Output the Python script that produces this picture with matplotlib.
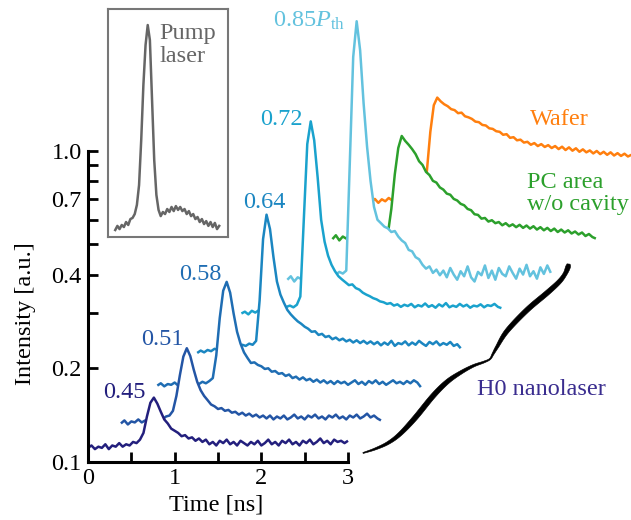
import numpy as np
import matplotlib
matplotlib.use('Agg')
import matplotlib.pyplot as plt
from matplotlib.patches import Polygon
from matplotlib.ticker import FixedLocator, NullLocator

plt.rcParams['font.family'] = ['Liberation Serif', 'DejaVu Serif']
plt.rcParams['mathtext.fontset'] = 'custom'
plt.rcParams['mathtext.rm'] = 'Liberation Serif'
plt.rcParams['mathtext.it'] = 'Liberation Serif:italic'

FS = 17.5
DT = 0.04  # ns sampling step of the traces

# ---------------- data ----------------
# H0 nanolaser traces (waterfall, each offset in time) : start time [ns], intensities [a.u.]
t0_045 = 0.00
I_045 = [0.111, 0.113, 0.110, 0.112, 0.111, 0.114, 0.110, 0.113, 0.112, 0.115, 0.112, 0.114, 0.113, 0.116,
         0.115, 0.118, 0.124, 0.140, 0.155, 0.161, 0.154, 0.145, 0.137, 0.133, 0.128, 0.126, 0.124, 0.121,
         0.122, 0.119, 0.120, 0.117, 0.119, 0.116, 0.118, 0.114, 0.116, 0.113, 0.117, 0.115, 0.118, 0.114,
         0.116, 0.113, 0.117, 0.115, 0.113, 0.116, 0.114, 0.117, 0.113, 0.115, 0.118, 0.114, 0.116, 0.113,
         0.117, 0.115, 0.118, 0.114, 0.116, 0.113, 0.117, 0.115, 0.118, 0.114, 0.116, 0.119, 0.115, 0.117,
         0.114, 0.118, 0.116, 0.117, 0.115, 0.117]

t0_051 = 0.38
I_051 = [0.133, 0.136, 0.132, 0.135, 0.134, 0.137, 0.134, 0.136, 0.135, 0.138, 0.136, 0.139, 0.137, 0.140,
         0.141, 0.146, 0.163, 0.190, 0.218, 0.232, 0.219, 0.198, 0.181, 0.170, 0.163, 0.158, 0.153, 0.151,
         0.148, 0.149, 0.146, 0.147, 0.144, 0.145, 0.142, 0.144, 0.141, 0.143, 0.140, 0.142, 0.139, 0.141,
         0.138, 0.141, 0.137, 0.140, 0.138, 0.141, 0.137, 0.139, 0.142, 0.138, 0.140, 0.137, 0.141, 0.139,
         0.142, 0.138, 0.140, 0.137, 0.141, 0.139, 0.142, 0.138, 0.140, 0.137, 0.141, 0.139, 0.142, 0.138,
         0.140, 0.143, 0.139, 0.141, 0.138, 0.136]

t0_058 = 0.80
I_058 = [0.176, 0.179, 0.175, 0.178, 0.177, 0.180, 0.176, 0.179, 0.178, 0.181, 0.177, 0.180, 0.178, 0.181,
         0.179, 0.182, 0.186, 0.220, 0.290, 0.355, 0.379, 0.350, 0.300, 0.262, 0.240, 0.225, 0.216, 0.208,
         0.209, 0.205, 0.203, 0.199, 0.200, 0.195, 0.196, 0.192, 0.193, 0.189, 0.191, 0.186, 0.188, 0.184,
         0.187, 0.183, 0.185, 0.181, 0.184, 0.180, 0.183, 0.179, 0.182, 0.178, 0.182, 0.179, 0.181, 0.177,
         0.180, 0.183, 0.178, 0.181, 0.177, 0.182, 0.179, 0.183, 0.178, 0.181, 0.177, 0.180, 0.183, 0.179,
         0.181, 0.178, 0.182, 0.179, 0.183, 0.180, 0.174]

t0_064 = 1.26
I_064 = [0.224, 0.228, 0.225, 0.229, 0.227, 0.231, 0.229, 0.233, 0.231, 0.234, 0.232, 0.236, 0.234, 0.238,
         0.236, 0.240, 0.238, 0.245, 0.330, 0.520, 0.623, 0.560, 0.455, 0.380, 0.345, 0.325, 0.308, 0.298,
         0.290, 0.283, 0.278, 0.272, 0.268, 0.262, 0.263, 0.256, 0.258, 0.252, 0.254, 0.248, 0.251, 0.246,
         0.249, 0.244, 0.247, 0.242, 0.246, 0.241, 0.245, 0.240, 0.244, 0.239, 0.243, 0.237, 0.242, 0.238,
         0.245, 0.236, 0.241, 0.239, 0.244, 0.237, 0.242, 0.238, 0.245, 0.240, 0.236, 0.243, 0.239, 0.244,
         0.237, 0.241, 0.238, 0.243, 0.236, 0.239, 0.232]

t0_072 = 1.77
I_072 = [0.300, 0.304, 0.298, 0.306, 0.302, 0.307, 0.305, 0.309, 0.307, 0.311, 0.309, 0.313, 0.311, 0.315,
         0.318, 0.314, 0.320, 0.340, 0.600, 1.050, 1.242, 1.080, 0.820, 0.600, 0.510, 0.460, 0.430, 0.410,
         0.395, 0.386, 0.378, 0.370, 0.372, 0.362, 0.358, 0.350, 0.345, 0.341, 0.336, 0.333, 0.328, 0.326,
         0.322, 0.324, 0.318, 0.321, 0.315, 0.320, 0.317, 0.322, 0.314, 0.319, 0.316, 0.323, 0.315, 0.319,
         0.313, 0.321, 0.316, 0.324, 0.314, 0.318, 0.315, 0.322, 0.316, 0.320, 0.313, 0.318, 0.316, 0.321,
         0.314, 0.319, 0.317, 0.322, 0.315, 0.312]

t0_085 = 2.30
I_085 = [0.385, 0.395, 0.380, 0.392, 0.387, 0.395, 0.389, 0.398, 0.392, 0.400, 0.395, 0.402, 0.397, 0.405,
         0.400, 0.408, 0.403, 0.412, 0.900, 2.000, 2.605, 2.100, 1.420, 1.030, 0.800, 0.660, 0.600, 0.585,
         0.570, 0.563, 0.548, 0.552, 0.530, 0.515, 0.505, 0.480, 0.475, 0.455, 0.448, 0.430, 0.418, 0.425,
         0.405, 0.415, 0.398, 0.412, 0.392, 0.420, 0.400, 0.385, 0.410, 0.395, 0.425, 0.392, 0.380, 0.408,
         0.398, 0.428, 0.390, 0.412, 0.385, 0.420, 0.402, 0.395, 0.425, 0.405, 0.388, 0.418, 0.400, 0.430,
         0.395, 0.410, 0.388, 0.422, 0.402, 0.428, 0.405]

# reference samples
t0_pc = 2.82
I_pc = [0.520, 0.535, 0.515, 0.530, 0.522, 0.536, 0.525, 0.532, 0.527, 0.534, 0.528, 0.533, 0.529, 0.535,
        0.530, 0.534, 0.540, 0.650, 0.840, 1.020, 1.115, 1.075, 1.045, 1.012, 0.975, 0.925, 0.900, 0.855,
        0.835, 0.800, 0.790, 0.762, 0.750, 0.728, 0.722, 0.700, 0.692, 0.675, 0.668, 0.650, 0.644, 0.625,
        0.622, 0.605, 0.608, 0.592, 0.598, 0.585, 0.590, 0.576, 0.585, 0.572, 0.580, 0.568, 0.578, 0.565,
        0.575, 0.562, 0.572, 0.558, 0.568, 0.555, 0.565, 0.552, 0.562, 0.548, 0.558, 0.546, 0.555, 0.542,
        0.550, 0.538, 0.546, 0.532, 0.540, 0.528, 0.522]

t0_wafer = 3.27
I_wafer = [0.685, 0.700, 0.680, 0.698, 0.688, 0.705, 0.692, 0.700, 0.695, 0.702, 0.696, 0.704, 0.698, 0.706,
           0.700, 0.720, 0.860, 1.150, 1.400, 1.481, 1.440, 1.410, 1.390, 1.360, 1.350, 1.320, 1.325, 1.290,
           1.280, 1.265, 1.240, 1.235, 1.210, 1.205, 1.180, 1.175, 1.155, 1.150, 1.125, 1.130, 1.100, 1.105,
           1.080, 1.085, 1.062, 1.068, 1.045, 1.058, 1.035, 1.050, 1.028, 1.042, 1.020, 1.035, 1.012, 1.030,
           1.005, 1.025, 1.000, 1.018, 0.992, 1.010, 0.988, 1.002, 0.980, 0.998, 0.975, 0.992, 0.970, 0.988,
           0.965, 0.982, 0.962, 0.978, 0.958, 0.970]

# pump laser (inset, linear, normalised)
PUMP_DT = 0.025
t0_pump = 0.08
I_pump = [0.032, 0.050, 0.036, 0.054, 0.045, 0.067, 0.054, 0.080, 0.085, 0.102, 0.142, 0.229, 0.427, 0.668,
          0.843, 0.931, 0.865, 0.602, 0.339, 0.186, 0.120, 0.093, 0.111, 0.102, 0.124, 0.111, 0.133, 0.115,
          0.137, 0.120, 0.133, 0.115, 0.124, 0.102, 0.115, 0.093, 0.102, 0.080, 0.089, 0.067, 0.080, 0.058,
          0.071, 0.050, 0.067, 0.045, 0.063, 0.036, 0.050]

power_labels = ['0.45', '0.51', '0.58', '0.64', '0.72', r'0.85$P_{\mathrm{th}}$']
sample_labels = ['Wafer', 'PC area\nw/o cavity', 'H0 nanolaser']
x_ticks = [0, 0.5, 1, 1.5, 2, 2.5, 3]
x_ticklabels = ['0', '', '1', '', '2', '', '3']
y_ticks = [0.1, 0.2, 0.3, 0.4, 0.5, 0.6, 0.7, 0.8, 0.9, 1.0]
y_ticklabels = ['0.1', '0.2', '', '0.4', '', '', '0.7', '', '', '1.0']

# ---------------- styling ----------------
c045, c051, c058, c064, c072, c085 = '#231f7d', '#2355a5', '#1f6db3', '#1b86c1', '#1aa2cd', '#63c2de'
c_pc, c_wafer, c_pump, c_h0 = '#2ca02c', '#ff7f0e', '#666666', '#3a2d8f'

W, H = 631, 520
fig = plt.figure(figsize=(W / 100, H / 100), dpi=100)
ax = fig.add_axes([88 / W, 58 / H, 260 / W, 311.3 / H])
ax.set_yscale('log')
ax.set_xlim(0, 3)
ax.set_ylim(0.1, 1.0)
ax.set_axisbelow(False)

# back to front (white fill below each trace hides the traces behind it)
traces = [
    (t0_wafer, I_wafer, c_wafer),
    (t0_pc, I_pc, c_pc),
    (t0_085, I_085, c085),
    (t0_072, I_072, c072),
    (t0_064, I_064, c064),
    (t0_058, I_058, c058),
    (t0_051, I_051, c051),
    (t0_045, I_045, c045),
]
for i, (t0, vals, col) in enumerate(traces):
    vals = np.asarray(vals)
    t = t0 + DT * np.arange(len(vals))
    z = 1.0 + 0.15 * i
    ax.fill_between(t, vals, 0.1, color='white', lw=0, zorder=z, clip_on=False)
    ax.plot(t, vals, color=col, lw=1.8, zorder=z + 0.05, clip_on=False,
            solid_joinstyle='round', solid_capstyle='butt')

# power labels
lab_pos = [(0.415, 0.1603, 'center'), (0.860, 0.2378, 'center'), (1.292, 0.3847, 'center'),
           (2.031, 0.654, 'center'), (2.227, 1.212, 'center'), (2.137, 2.51, 'left')]
lab_cols = [c045, c051, c058, c064, c072, c085]
for (x, y, ha), txt, col in zip(lab_pos, power_labels, lab_cols):
    ax.text(x, y, txt, color=col, fontsize=FS, ha=ha, va='baseline', zorder=5, clip_on=False)

ax.text(5.434, 1.212, sample_labels[0], color=c_wafer, fontsize=FS, ha='center', va='baseline', zorder=5)
ax.text(5.062, 0.646, sample_labels[1], color=c_pc, fontsize=FS, ha='left', va='baseline',
        linespacing=1.05, zorder=5)
ax.text(4.484, 0.1642, sample_labels[2], color=c_h0, fontsize=FS, ha='left', va='baseline', zorder=5)

# axes styling
for s in ['top', 'right']:
    ax.spines[s].set_visible(False)
for s in ['left', 'bottom']:
    ax.spines[s].set_linewidth(2.2)
ax.set_xticks(x_ticks)
ax.set_xticklabels(x_ticklabels)
ax.yaxis.set_major_locator(FixedLocator(y_ticks))
ax.yaxis.set_minor_locator(NullLocator())
ax.set_yticklabels(y_ticklabels)
ax.tick_params(axis='both', which='major', direction='in', length=7, width=2,
               labelsize=FS, pad=4.5)
ax.set_xlabel('Time [ns]', fontsize=FS)
ax.set_ylabel('Intensity [a.u.]', fontsize=FS)
ax.xaxis.set_label_coords(0.494, -0.138)
ax.yaxis.set_label_coords(-0.242, 0.477)
ax.xaxis.label.set_va('center')
ax.yaxis.label.set_va('center')

# curly brace (figure pixel layout, y downward): x, y, stroke width
brace_pts = np.array([
    (363, 453, 1.0), (375, 449, 2.0), (388, 443, 3.0), (400, 434, 4.0), (415, 418, 5.0),
    (433, 396, 5.0), (447, 382, 4.5), (460, 373, 3.5), (473, 366, 2.5), (484, 362, 1.8),
    (490, 359, 1.4), (493, 354, 2.0), (497, 347, 3.0), (507, 331, 4.5), (527, 310, 5.0),
    (547, 293, 5.0), (559, 282, 4.5), (565, 274, 4.0), (568, 267, 4.8), (568.5, 264, 3.0)], dtype=float)


def catmull(P, n=10):
    P = np.vstack([P[0], P, P[-1]])
    out = []
    for i in range(1, len(P) - 2):
        p0, p1, p2, p3 = P[i - 1], P[i], P[i + 1], P[i + 2]
        for t in np.linspace(0, 1, n, endpoint=False):
            out.append(0.5 * ((2 * p1) + (-p0 + p2) * t + (2 * p0 - 5 * p1 + 4 * p2 - p3) * t * t
                              + (-p0 + 3 * p1 - 3 * p2 + p3) * t ** 3))
    out.append(P[-2])
    return np.array(out)


cb = catmull(brace_pts)
xy = cb[:, :2]
wid = cb[:, 2]
d = np.gradient(xy, axis=0)
nrm = np.stack([-d[:, 1], d[:, 0]], axis=1)
nrm /= np.linalg.norm(nrm, axis=1, keepdims=True)
left = xy + nrm * wid[:, None] / 2
right = xy - nrm * wid[:, None] / 2
poly = np.vstack([left, right[::-1]])
poly_fig = np.column_stack([poly[:, 0] / W, 1 - poly[:, 1] / H])
fig.patches.append(Polygon(poly_fig, closed=True, transform=fig.transFigure,
                           facecolor='black', edgecolor='black', lw=0.4, joinstyle='round'))

# inset: pump laser
iax = fig.add_axes([108.3 / W, (H - 237.3) / H, 120 / W, 228 / H])
tp = t0_pump + PUMP_DT * np.arange(len(I_pump))
iax.plot(tp, I_pump, color=c_pump, lw=1.8, solid_joinstyle='round')
iax.set_xlim(0, 1.385)
iax.set_ylim(0, 1)
iax.set_xticks([])
iax.set_yticks([])
for s in iax.spines.values():
    s.set_color('#777777')
    s.set_linewidth(1.5)
iax.text(0.425, 0.770, 'Pump\nlaser', color=c_pump, fontsize=FS, transform=iax.transAxes,
         ha='left', va='baseline', linespacing=1.1)

fig.savefig('out.png', dpi=100)
